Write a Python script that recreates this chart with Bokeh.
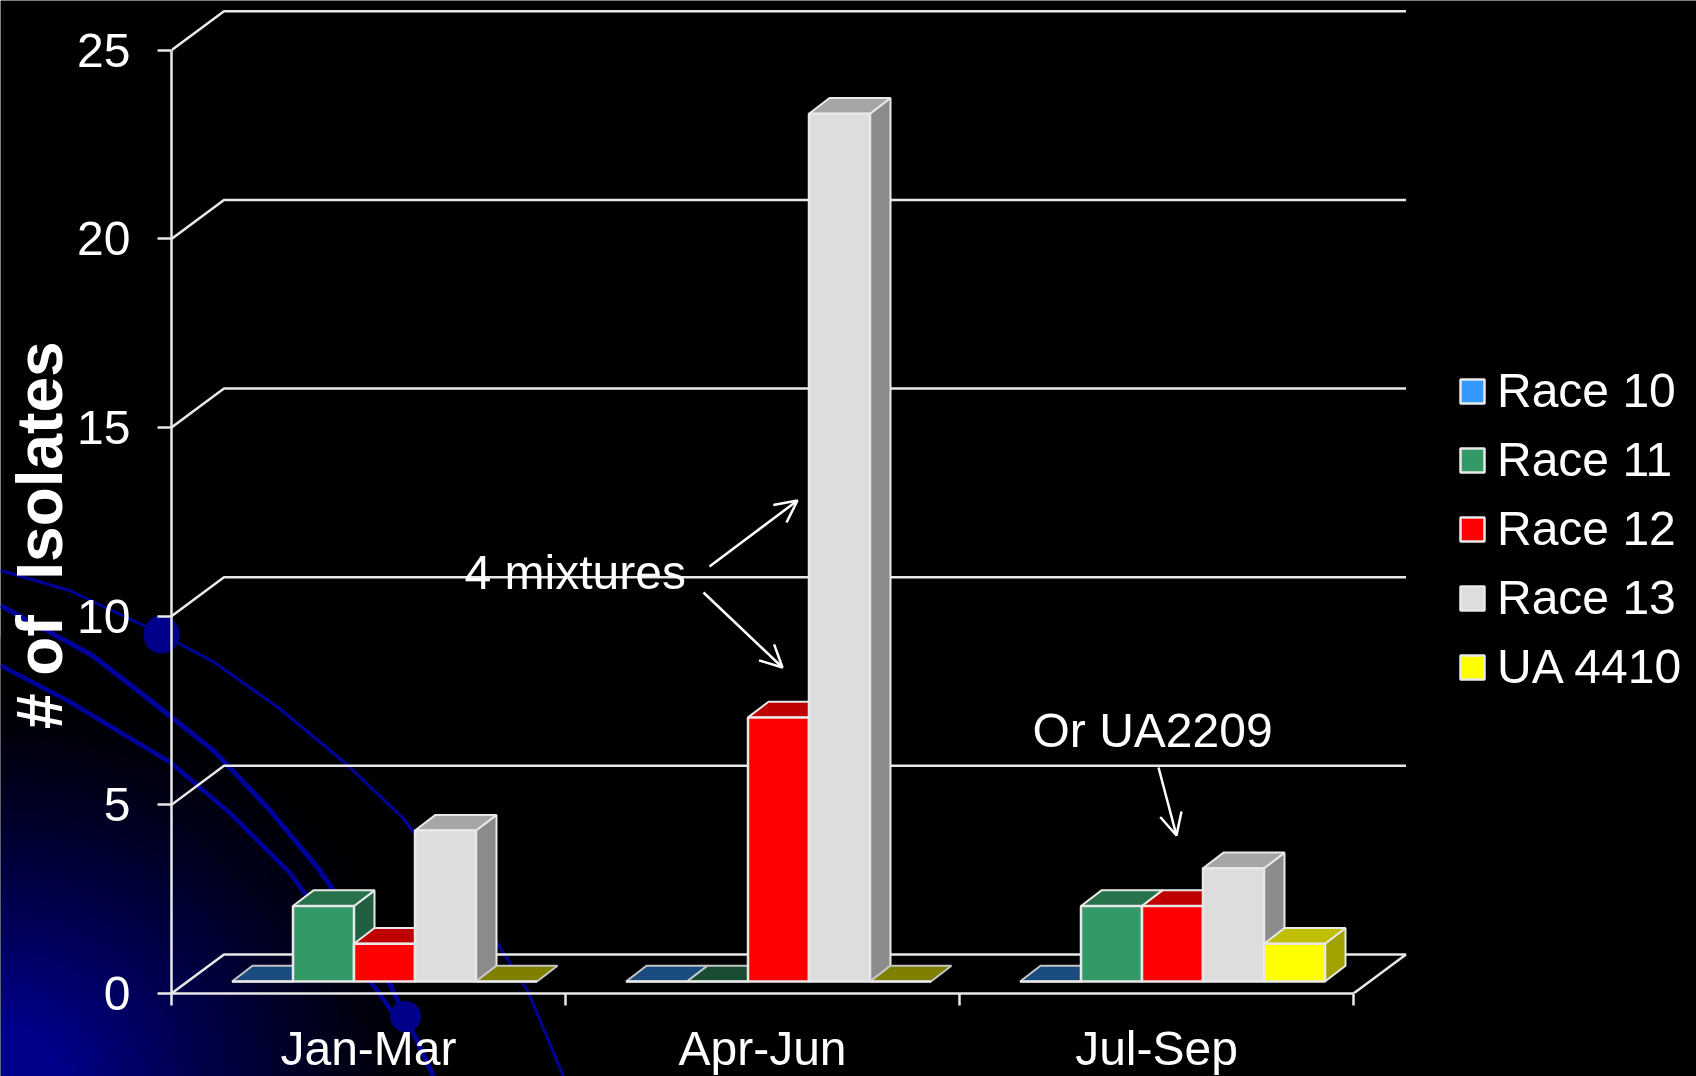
import numpy as np
from bokeh.core.properties import value
from bokeh.embed import file_html
from bokeh.models import (Arrow, ColumnDataSource, FixedTicker, Legend, LegendItem,
                          LinearAxis, OpenHead, Range1d)
from bokeh.plotting import figure
from bokeh.resources import INLINE

FONT = "Liberation Sans"
W, H = 1696, 1076

# ---- data -------------------------------------------------------------
quarters = ["Jan-Mar", "Apr-Jun", "Jul-Sep"]
series_names = ["Race 10", "Race 11", "Race 12", "Race 13", "UA 4410"]
race_10 = [0, 0, 0]
race_11 = [2, 0, 2]
race_12 = [1, 7, 2]
race_13 = [4, 23, 3]
ua_4410 = [0, 0, 1]
series_values = [race_10, race_11, race_12, race_13, ua_4410]
series_colors = [(0x33, 0x99, 0xFF), (0x33, 0x99, 0x66), (0xFF, 0x00, 0x00),
                 (0xDD, 0xDD, 0xDD), (0xFF, 0xFF, 0x00)]
y_ticks = [0, 5, 10, 15, 20, 25]

# ---- pseudo-3D projection, in data units ------------------------------
PX_X, PX_Y = 394.0, 37.73          # pixels per category / per isolate
LEFT, BOTTOM = 171, 83
WALL_DX, WALL_DY = 52.5 / PX_X, 39.0 / PX_Y
BAR_OX, BAR_OY = 16.0 / PX_X, 12.0 / PX_Y
BAR_DX, BAR_DY = 20.5 / PX_X, 15.7 / PX_Y
BAR_W = 61.0 / PX_X


def hexc(rgb, k=1.0):
    return "#%02x%02x%02x" % tuple(int(round(c * k)) for c in rgb)


# ---- decorative slide background (pixel coordinates) -------------------
bg = figure(width=W, height=H, x_range=Range1d(0, W), y_range=Range1d(0, H),
            output_backend="svg", toolbar_location=None, min_border=0,
            background_fill_color="#000000", border_fill_color="#000000",
            outline_line_color=None, x_axis_location=None, y_axis_location=None)
bg.grid.visible = False

gw, gh = 520, 440
yy, xx = np.mgrid[0:gh, 0:gw]
dist = np.sqrt((xx / 440.0) ** 2 + (yy / 400.0) ** 2)
blue = np.minimum(np.clip(1 - dist, 0, 1) ** 1.3 * 165, 138)
rgba = np.zeros((gh, gw), dtype=np.uint32)
view = rgba.view(dtype=np.uint8).reshape((gh, gw, 4))
view[..., 2] = blue.astype(np.uint8)
view[..., 3] = 255
bg.image_rgba(image=[rgba], x=0, y=0, dw=gw, dh=gh)

arc_a = [(0, 570), (69, 590), (162, 634), (214, 662), (279, 708), (344, 762), (402, 817),
         (450, 880), (497, 943), (527, 990), (563, 1076)]
arc_b = [(0, 605), (92, 655), (150, 700), (213, 750), (267, 807), (317, 867), (333, 890),
         (390, 985), (405, 1016), (413, 1033), (433, 1076)]
arc_c = [(0, 665), (67, 700), (170, 762), (230, 813), (290, 873), (307, 897), (373, 985), (395, 1016)]
arc_faint = [(40, 700), (130, 775), (230, 870), (320, 965), (405, 1076)]
bg.line([q[0] for q in arc_faint], [H - q[1] for q in arc_faint], line_color="#000000",
        line_alpha=0.5, line_width=2)
for arc, lw in ((arc_a, 3), (arc_b, 5), (arc_c, 4.5)):
    bg.line([q[0] for q in arc], [H - q[1] for q in arc], line_color="#00009a",
            line_width=lw, line_join="round")
bg.ellipse(x=[161, 405], y=[H - 634, H - 1016], width=[36, 31], height=[38, 31],
           fill_color="#00008a", line_color=None)
bg.styles = {"position": "fixed", "left": "0px", "top": "0px"}

# ---- chart --------------------------------------------------------------
p = figure(width=W, height=H, frame_width=W - LEFT, frame_height=H - BOTTOM,
           x_range=Range1d(0, (W - LEFT) / PX_X), y_range=Range1d(0, (H - BOTTOM) / PX_Y),
           output_backend="svg", toolbar_location=None,
           x_axis_location=None, y_axis_location=None,
           min_border_left=LEFT, min_border_bottom=BOTTOM, min_border_top=0, min_border_right=0,
           background_fill_color=None, border_fill_color=None, outline_line_color=None)
p.grid.visible = False
p.styles = {"position": "fixed", "left": "0px", "top": "0px"}

LINE = "#e8e8e8"
LW = 2.5
n = len(quarters)
yaxis = LinearAxis(ticker=FixedTicker(ticks=y_ticks), bounds=(0, 25),
                   axis_label="# of\u00a0 Isolates\u00a0\u00a0\u00a0\u00a0\u200a",
                   axis_label_text_font=FONT, axis_label_text_font_style="bold",
                   axis_label_text_font_size="64px", axis_label_text_color="#ffffff",
                   axis_label_standoff=-2,
                   major_label_text_font=FONT, major_label_text_font_size="48px",
                   major_label_text_color="#ffffff", major_label_standoff=27,
                   major_tick_in=0, major_tick_out=14, minor_tick_in=0, minor_tick_out=0,
                   major_tick_line_color=LINE, major_tick_line_width=LW,
                   axis_line_color=LINE, axis_line_width=LW)
p.add_layout(yaxis, "left")
xaxis = LinearAxis(ticker=FixedTicker(ticks=[i + 0.5 for i in range(n)], minor_ticks=list(range(n + 1))),
                   bounds=(0, n),
                   major_label_overrides={i + 0.5: q for i, q in enumerate(quarters)},
                   major_label_text_font=FONT, major_label_text_font_size="48px",
                   major_label_text_color="#ffffff", major_label_standoff=16,
                   major_tick_in=0, major_tick_out=0, minor_tick_in=0, minor_tick_out=12,
                   minor_tick_line_color=LINE, minor_tick_line_width=LW,
                   axis_line_color=LINE, axis_line_width=LW)
p.add_layout(xaxis, "below")

# gridlines: receding wall lines
wall_xs, wall_ys = [], []
for t in y_ticks:
    wall_xs.append([0, WALL_DX, n + WALL_DX])
    wall_ys.append([t, t + WALL_DY, t + WALL_DY])
wall_xs.append([n, n + WALL_DX])
wall_ys.append([0, WALL_DY])
p.multi_line(wall_xs, wall_ys, line_color=LINE, line_width=LW)

# bars, left to right so that later bars hide earlier side faces
legend_items = []
for s, (name, vals, col) in enumerate(zip(series_names, series_values, series_colors)):
    lefts = [i + 0.5 + BAR_OX + (s - 2.5) * BAR_W for i in range(n)]
    rights = [x + BAR_W for x in lefts]
    tops = [v + BAR_OY for v in vals]
    base = BAR_OY

    side_x = [[r, r + BAR_DX, r + BAR_DX, r] for r, v in zip(rights, vals) if v > 0]
    side_y = [[base, base + BAR_DY, t + BAR_DY, t] for t, v in zip(tops, vals) if v > 0]
    if side_x:
        p.patches(side_x, side_y, fill_color=hexc(col, 0.63), line_color=LINE, line_width=2)

    top_x = [[l, l + BAR_DX, r + BAR_DX, r] for l, r in zip(lefts, rights)]
    top_y = [[t, t + BAR_DY, t + BAR_DY, t] for t in tops]
    top_fill = [hexc(col, 0.75 if v > 0 else 0.5) for v in vals]
    top_line = [LINE if v > 0 else "#c4c4c4" for v in vals]
    p.patches(xs="xs", ys="ys", source=ColumnDataSource(dict(xs=top_x, ys=top_y, f=top_fill, c=top_line)),
              fill_color="f", line_color="c", line_width=2)

    front = p.quad(left=lefts, right=rights, bottom=[base] * n, top=tops,
                   fill_color=hexc(col), line_color=LINE, line_width=LW)
    legend_items.append(LegendItem(label=name, renderers=[front]))

legend = Legend(items=legend_items, location=(1461 - LEFT - 4, 993 - 694),
                orientation="vertical", background_fill_alpha=0, border_line_color=None,
                label_text_font=FONT, label_text_font_size="48px", label_text_color="#ffffff",
                glyph_width=30, glyph_height=30, label_standoff=10, spacing=14,
                padding=8, margin=0)
p.add_layout(legend, "center")

# annotations (pixel position converted to the data scale)
def dx(px):
    return (px - LEFT) / PX_X


def dy(py):
    return (H - BOTTOM - py) / PX_Y


note_text = ["4 mixtures", "Or UA2209"]
note_x = [dx(464), dx(1032)]
note_y = [dy(572), dy(730)]
p.text(x=note_x, y=note_y, text=note_text, text_color="#ffffff", text_font=value(FONT),
       text_font_size="48px", text_align="left", text_baseline="alphabetic")

arrows_px = [(709, 566, 797, 500), (703, 592, 782, 667), (1158, 767, 1176, 835)]
for x0, y0, x1, y1 in arrows_px:
    p.add_layout(Arrow(end=OpenHead(size=22, line_color="#ffffff", line_width=2.5),
                       x_start=dx(x0), y_start=dy(y0), x_end=dx(x1), y_end=dy(y1),
                       line_color="#ffffff", line_width=2.5))

open("out.html", "w").write(file_html([bg, p], INLINE))
